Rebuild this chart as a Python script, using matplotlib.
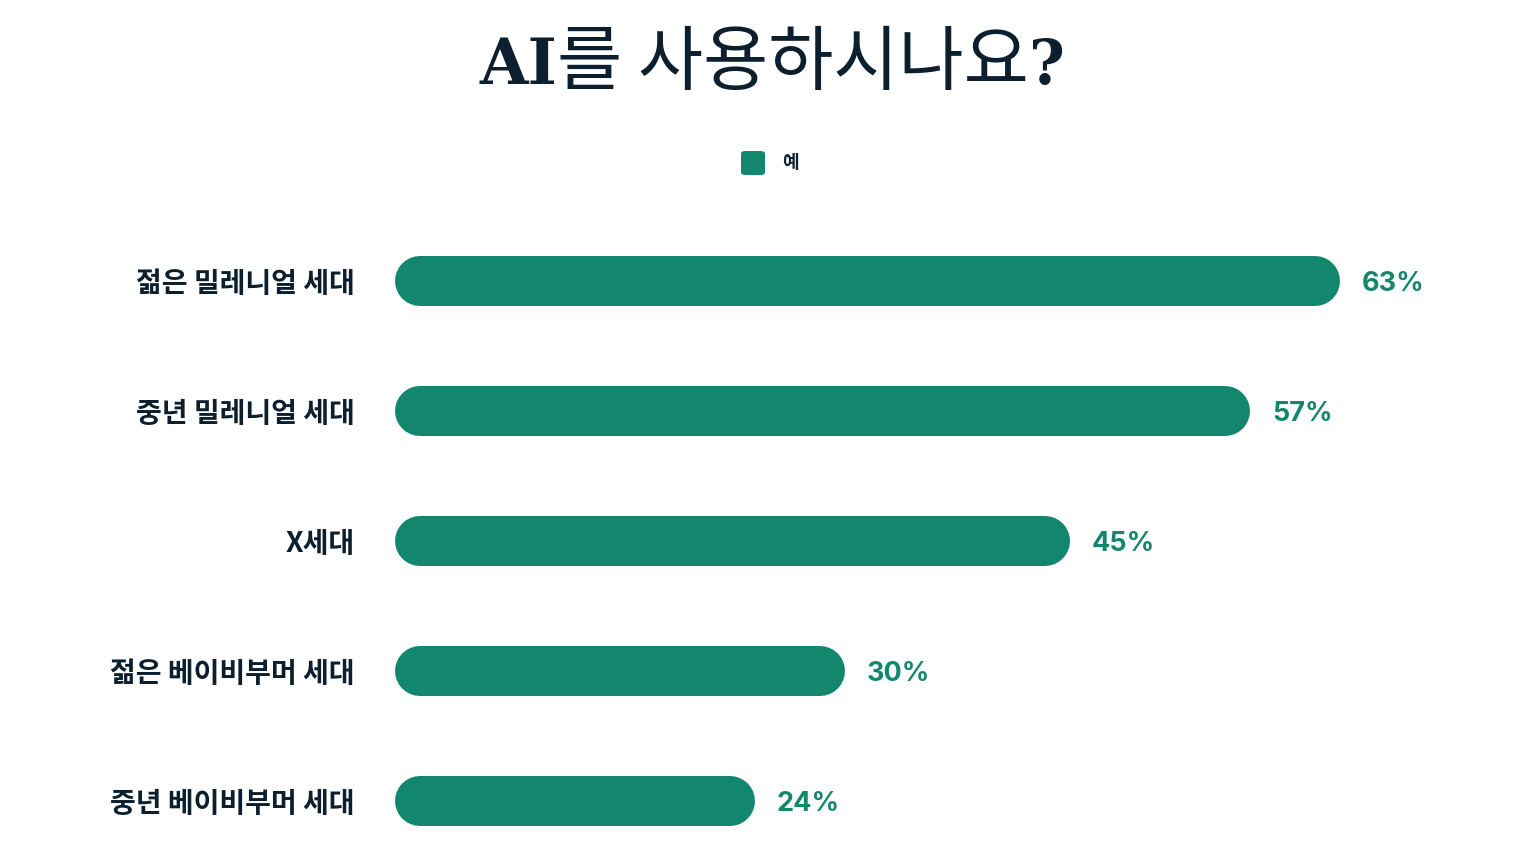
import matplotlib
matplotlib.use("Agg")
import matplotlib.pyplot as plt
from matplotlib.patches import FancyBboxPatch

categories = ["젊은 밀레니얼 세대", "중년 밀레니얼 세대", "X세대", "젊은 베이비부머 세대", "중년 베이비부머 세대"]
values = [63, 57, 45, 30, 24]
series_name = "예"
title_parts = ["AI", "를 사용하시나요", "?"]

TEAL = "#12876d"
NAVY = "#0c1f2e"
W, H = 1540, 846
DPI = 100

fig = plt.figure(figsize=(W / DPI, H / DPI), dpi=DPI)
fig.patch.set_facecolor("white")

# axes: x=0 at pixel 395, 15 px per percent; category centres 130px apart, first at y=281
px_per_unit = 15.0
ax_left_px, ax_top_px = 395, 216
ax_w_px = W - ax_left_px
ax_h_px = H - ax_top_px
ax = fig.add_axes([ax_left_px / W, 0, ax_w_px / W, ax_h_px / H])
ax.set_xlim(0, ax_w_px / px_per_unit)
row_px = 130.0
ax.set_ylim(-0.5 + ax_h_px / row_px, -0.5)
for s in ax.spines.values():
    s.set_visible(False)
ax.set_xticks([])
ax.set_yticks(range(len(categories)))
ax.set_yticklabels(categories, fontsize=20.2, fontweight="bold", color=NAVY,
                   family=["Noto Sans CJK KR", "DejaVu Sans"])
ax.tick_params(axis="y", length=0, pad=28.8)

bar_h_px = 50
r = bar_h_px / 2 / px_per_unit  # cap radius in data units
lw_pt = bar_h_px * 72 / DPI
for i, v in enumerate(values):
    ax.plot([r, v - r], [i, i], color=TEAL, lw=lw_pt, solid_capstyle="round")
    ax.annotate(f"{v}%", xy=(v, i), xytext=(15.8, -2.2), textcoords="offset points",
                ha="left", va="center", fontsize=19.5, fontweight="bold", color=TEAL,
                family=["Inter", "DejaVu Sans"])

# legend
lx, ly, ls = 741, 151, 24
fig.patches.append(FancyBboxPatch((lx / W, 1 - (ly + ls) / H), ls / W, ls / H,
                                  boxstyle="round,pad=0,rounding_size=0.003",
                                  transform=fig.transFigure, facecolor=TEAL, edgecolor="none"))
fig.text(782 / W, 1 - 163 / H, series_name, ha="left", va="center", fontsize=13,
         fontweight="bold", color=NAVY, family=["Noto Sans CJK KR"])

# title in pieces
base_y = 1 - 84 / H
t1 = fig.text(0, base_y, title_parts[0], fontsize=45, fontweight="bold", color=NAVY,
              family=["DejaVu Serif"], va="baseline")
t2 = fig.text(0, base_y, title_parts[1], fontsize=51, color=NAVY,
              family=["Noto Sans CJK KR"], va="baseline")
t3 = fig.text(0, base_y, title_parts[2], fontsize=44, fontweight="bold", color=NAVY,
              family=["DejaVu Serif"], va="baseline")
fig.canvas.draw()
rend = fig.canvas.get_renderer()
ws = [t.get_window_extent(rend).width for t in (t1, t2, t3)]
total = sum(ws)
x = (W - total) / 2 + 2
for t, w in zip((t1, t2, t3), ws):
    t.set_x(x / W)
    x += w

fig.savefig("out.png", dpi=DPI, facecolor="white")
